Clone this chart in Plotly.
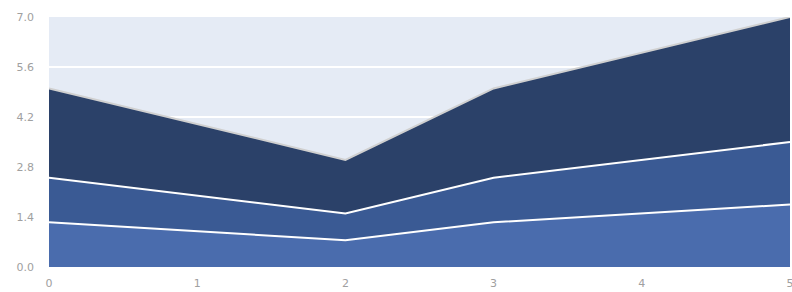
import plotly.graph_objects as go

x_vals = [0, 2, 3, 5]
series_a = [1.25, 0.75, 1.25, 1.75]
series_b = [1.25, 0.75, 1.25, 1.75]
series_c = [2.5, 1.5, 2.5, 3.5]
y_ticks = [0.0, 1.4, 2.8, 4.2, 5.6, 7.0]
y_tick_labels = ["0.0", "1.4", "2.8", "4.2", "5.6", "7.0"]
x_ticks = [0, 1, 2, 3, 4, 5]

fills = ["#4a6cad", "#3a5a94", "#2b4169"]
lines = ["#ffffff", "#ffffff", "#d0d0d0"]

fig = go.Figure()
for ys, fc, lc in zip([series_a, series_b, series_c], fills, lines):
    fig.add_trace(go.Scatter(
        x=x_vals, y=ys, stackgroup="one", mode="lines",
        fillcolor=fc, line=dict(color=lc, width=2), showlegend=False,
        hoverinfo="skip",
    ))

fig.update_layout(
    width=792, height=292,
    margin=dict(l=49, r=2, t=17, b=25),
    paper_bgcolor="white", plot_bgcolor="#e5ebf5",
    font=dict(family="DejaVu Sans", size=11, color="#a0a0a0"),
)
fig.update_xaxes(range=[0, 5], tickvals=x_ticks, showgrid=False, zeroline=False,
                 ticks="", ticklabelstandoff=8, ticklabeloverflow="allow",
                 automargin=False, tickfont=dict(size=11, color="#a0a0a0"))
fig.update_yaxes(range=[0, 7], tickvals=y_ticks, ticktext=y_tick_labels,
                 showgrid=True, gridcolor="white", gridwidth=2, zeroline=False,
                 ticks="", ticklabelstandoff=14, ticklabeloverflow="allow",
                 automargin=False, tickfont=dict(size=11, color="#a0a0a0"))

fig.write_html("out.html", config={"displayModeBar": False},
               post_script="document.body.style.margin='0';document.body.style.overflow='hidden';")
